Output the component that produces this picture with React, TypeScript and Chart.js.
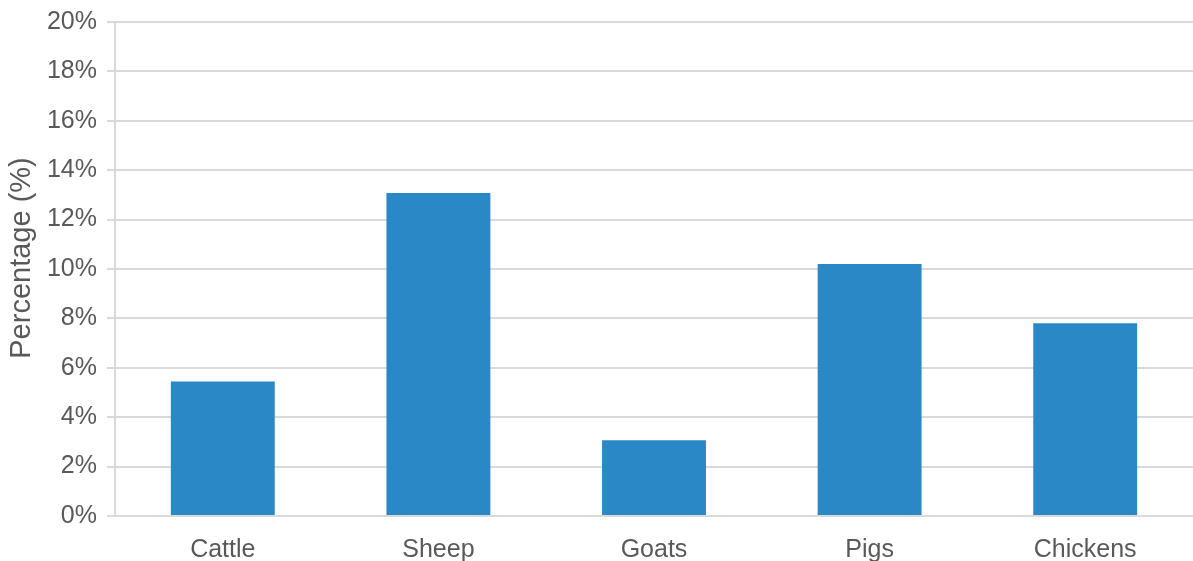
import React, { useEffect, useRef } from "react";
import { Chart, registerables } from "chart.js";

Chart.register(...registerables);

const categories = ["Cattle", "Sheep", "Goats", "Pigs", "Chickens"];
const percentages = [5.45, 13.08, 3.07, 10.2, 7.8];
const yMin = 0;
const yMax = 20;
const yStep = 2;
const yTitle = "Percentage (%)";

export default function App() {
  const ref = useRef<HTMLCanvasElement>(null);
  useEffect(() => {
    document.body.style.margin = "0";
    const font = "'Liberation Sans', Arial, sans-serif";
    const titlePlugin = {
      id: "yTitle",
      afterDraw(c: any) {
        const ctx = c.ctx;
        ctx.save();
        ctx.translate(22, 258);
        ctx.rotate(-Math.PI / 2);
        ctx.fillStyle = "#595959";
        ctx.font = `29px ${font}`;
        ctx.textAlign = "center";
        ctx.textBaseline = "middle";
        ctx.fillText(yTitle, 0, 0);
        ctx.restore();
      },
    };
    const chart = new Chart(ref.current!, {
      type: "bar",
      data: {
        labels: categories,
        datasets: [
          {
            data: percentages,
            backgroundColor: "#2988c5",
            borderWidth: 0,
            categoryPercentage: 1,
            barPercentage: 0.482,
          },
        ],
      },
      options: {
        animation: false,
        responsive: false,
        maintainAspectRatio: false,
        layout: { padding: { top: 22, right: 0, bottom: 0, left: 0 } },
        plugins: { legend: { display: false }, tooltip: { enabled: false } },
        scales: {
          x: {
            grid: { display: false },
            border: { display: false },
            ticks: {
              color: "#595959",
              font: { family: font, size: 25 },
              padding: 11,
              maxRotation: 0,
            },
            afterFit: (s: any) => {
              s.height = 45;
              s.paddingLeft = 0;
              s.paddingRight = 0;
            },
          },
          y: {
            min: yMin,
            max: yMax,
            ticks: {
              stepSize: yStep,
              color: "#595959",
              font: { family: font, size: 25 },
              padding: 10,
              callback: (v: any) => v + "%",
            },
            grid: { color: "#d9d9d9", lineWidth: 2, tickLength: 8 },
            border: { display: true, color: "#d9d9d9", width: 2 },
            afterFit: (s: any) => {
              s.width = 115;
              s.paddingTop = 0;
              s.paddingBottom = 0;
            },
          },
        },
      },
      plugins: [titlePlugin],
    });
    return () => chart.destroy();
  }, []);
  return (
    <div style={{ position: "absolute", left: 0, top: 0, width: 1193, height: 561 }}>
      <canvas ref={ref} width={1193} height={561} style={{ width: 1193, height: 561 }} />
    </div>
  );
}
